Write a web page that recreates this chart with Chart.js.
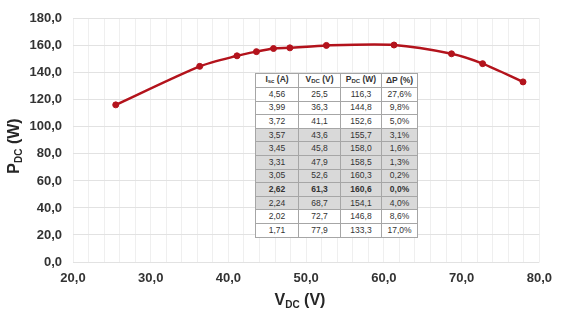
<!DOCTYPE html>
<html>
<head>
<meta charset="utf-8">
<script src="https://cdn.jsdelivr.net/npm/chart.js@4.4.1/dist/chart.umd.min.js"></script>
<style>
  body { margin: 0; background: #fff; }
  #wrap { position: relative; width: 561px; height: 315px; }
  #tbl {
    position: absolute; left: 255px; top: 73px;
    border-collapse: collapse; font-family: "Liberation Sans", Arial, sans-serif;
    font-size: 8.5px; color: #333; background: #fff;
  }
  #tbl td, #tbl th {
    border: 1px solid #a6a6a6; height: 12.6px; padding: 0; text-align: center;
    font-weight: normal; line-height: 11px;
  }
  #tbl th { font-weight: bold; }
  #tbl sub { font-size: 6px; vertical-align: -1px; }
  #tbl tr.shade td { background: #d9d9d9; }
  #tbl tr.best td { font-weight: bold; }
</style>
</head>
<body>
<div id="wrap">
  <canvas id="myChart" width="561" height="315"></canvas>
  <table id="tbl"></table>
</div>
<script>
const currents = [4.56, 3.99, 3.72, 3.57, 3.45, 3.31, 3.05, 2.62, 2.24, 2.02, 1.71];
const voltages = [25.5, 36.3, 41.1, 43.6, 45.8, 47.9, 52.6, 61.3, 68.7, 72.7, 77.9];
const powers = [116.3, 144.8, 152.6, 155.7, 158.0, 158.5, 160.3, 160.6, 154.1, 146.8, 133.3];
const deltaP = [27.6, 9.8, 5.0, 3.1, 1.6, 1.3, 0.2, 0.0, 4.0, 8.6, 17.0];
const headers = ['I<sub>sc</sub> (A)', 'V<sub>DC</sub> (V)', 'P<sub>DC</sub> (W)', '&Delta;P (%)'];

const comma = (v, d) => v.toFixed(d).replace('.', ',');

// table overlay
const colW = [42, 41, 40, 35];
const tbl = document.getElementById('tbl');
let html = '<tr>' + headers.map((h, i) => `<th style="width:${colW[i]}px">${h}</th>`).join('') + '</tr>';
const best = powers.indexOf(Math.max(...powers));
currents.forEach((c, i) => {
  let cls = (i >= 3 && i <= 8) ? 'shade' : '';
  if (i === best) cls += ' best';
  html += `<tr class="${cls}"><td>${comma(c, 2)}</td><td>${comma(voltages[i], 1)}</td><td>${comma(powers[i], 1)}</td><td>${comma(deltaP[i], 1)}%</td></tr>`;
});
tbl.innerHTML = html;

// axis titles with subscripts
const axisTitles = {
  id: 'axisTitles',
  afterDraw(chart) {
    const ctx = chart.ctx;
    ctx.save();
    ctx.fillStyle = '#262626';
    ctx.textBaseline = 'alphabetic';
    const drawSub = (main, sub, rest) => {
      ctx.font = 'bold 16px "Liberation Sans", Arial';
      const w1 = ctx.measureText(main).width;
      ctx.font = 'bold 10px "Liberation Sans", Arial';
      const w2 = ctx.measureText(sub).width;
      ctx.font = 'bold 16px "Liberation Sans", Arial';
      const w3 = ctx.measureText(rest).width;
      let x = -(w1 + w2 + w3) / 2;
      ctx.fillText(main, x, 6);
      ctx.font = 'bold 10px "Liberation Sans", Arial';
      ctx.fillText(sub, x + w1, 9);
      ctx.font = 'bold 16px "Liberation Sans", Arial';
      ctx.fillText(rest, x + w1 + w2, 6);
    };
    ctx.translate(300, 299);
    drawSub('V', 'DC', ' (V)');
    ctx.setTransform(1, 0, 0, 1, 0, 0);
    ctx.translate(13, 146);
    ctx.rotate(-Math.PI / 2);
    drawSub('P', 'DC', ' (W)');
    ctx.restore();
  }
};

const ctx = document.getElementById('myChart').getContext('2d');
new Chart(ctx, {
  type: 'scatter',
  data: {
    datasets: [{
      data: voltages.map((v, i) => ({ x: v, y: powers[i] })),
      showLine: true,
      borderColor: '#b3131c',
      backgroundColor: '#b3131c',
      borderWidth: 2.5,
      pointRadius: 3,
      pointBorderWidth: 1,
      pointHoverRadius: 3,
      tension: 0.25
    }]
  },
  options: {
    responsive: false,
    animation: false,
    layout: { padding: { top: 17, right: 21, left: 0, bottom: 0 } },
    plugins: { legend: { display: false }, tooltip: { enabled: false } },
    scales: {
      x: {
        min: 20, max: 80,
        border: { display: false },
        grid: { color: '#efefef', drawTicks: false },
        ticks: {
          stepSize: 2, autoSkip: false, maxRotation: 0, padding: 9,
          color: '#333', font: { family: '"Liberation Sans", Arial', size: 13, weight: 'bold' },
          callback: v => (v % 10 === 0 ? comma(v, 1) : '')
        },
        afterFit: s => { s.height = 53; }
      },
      y: {
        min: 0, max: 180,
        border: { display: false },
        grid: { color: '#e2e2e2', drawTicks: false },
        ticks: {
          stepSize: 20, padding: 11,
          color: '#333', font: { family: '"Liberation Sans", Arial', size: 13, weight: 'bold' },
          callback: v => comma(v, 1)
        },
        afterFit: s => { s.width = 73; }
      }
    }
  },
  plugins: [axisTitles]
});
</script>
</body>
</html>
